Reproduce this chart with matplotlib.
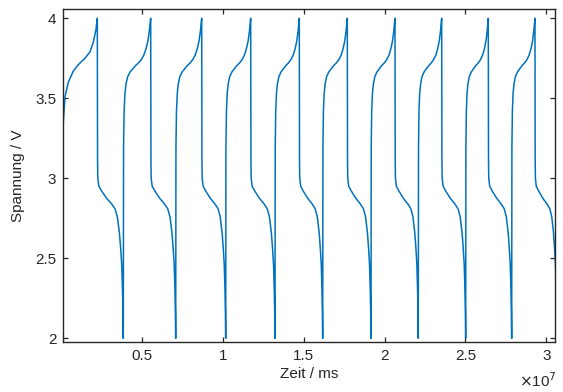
import numpy as np
import matplotlib
matplotlib.use('Agg')
import matplotlib.pyplot as plt
from matplotlib.ticker import FuncFormatter

# --- Data (time in ms, voltage in V) ---
# first, partial charge segment at the start of the record
start_t = [0.0111e7, 0.0217e7, 0.0421e7, 0.0730e7, 0.1040e7,
           0.1454e7, 0.1764e7, 0.1968e7, 0.2135e7, 0.2215e7]
start_v = [3.35, 3.51, 3.60, 3.67, 3.71, 3.75, 3.79, 3.85, 3.93, 4.00]

# times where the cell hits 4.0 V (end of charge) and 2.0 V (end of discharge)
peak_t = [0.2215e7, 0.5520e7, 0.8676e7, 1.1708e7, 1.4715e7,
          1.7686e7, 2.0637e7, 2.3527e7, 2.6411e7, 2.9300e7]
min_t = [0.3824e7, 0.7067e7, 1.0161e7, 1.3212e7, 1.6163e7,
         1.9152e7, 2.2079e7, 2.5012e7, 2.7859e7, 3.0650e7]

# discharge curve shape (fraction of the discharge time, voltage)
dis_f = [0.0, 0.004, 0.01, 0.02, 0.06, 0.17, 0.36, 0.55, 0.68,
         0.77, 0.85, 0.90, 0.94, 0.97, 0.99, 1.0]
dis_v = [4.00, 3.40, 3.10, 3.00, 2.95, 2.92, 2.875, 2.84, 2.81,
         2.76, 2.66, 2.56, 2.46, 2.30, 2.15, 2.00]

# charge curve shape (fraction of the charge time, voltage)
chg_f = [0.0, 0.01, 0.03, 0.06, 0.10, 0.16, 0.25, 0.35, 0.45,
         0.55, 0.65, 0.75, 0.83, 0.90, 0.95, 1.0]
chg_v = [2.00, 3.20, 3.42, 3.53, 3.59, 3.635, 3.665, 3.685, 3.705,
         3.72, 3.74, 3.77, 3.81, 3.86, 3.92, 4.00]

# --- Build the cycling record ---
t = list(start_t)
v = list(start_v)
for i in range(len(peak_t)):
    dt = min_t[i] - peak_t[i]
    t += [peak_t[i] + f * dt for f in dis_f[1:]]
    v += dis_v[1:]
    if i + 1 < len(peak_t):
        dt = peak_t[i + 1] - min_t[i]
        t += [min_t[i] + f * dt for f in chg_f[1:]]
        v += chg_v[1:]

# --- Plot ---
plt.rcParams['font.family'] = ['Liberation Sans', 'DejaVu Sans']
dark = '#262626'

fig = plt.figure(figsize=(5.63, 3.92), dpi=100)
ax = fig.add_axes([0.1124, 0.1283, 0.8734, 0.848])
ax.plot(t, v, color='#0072BD', linewidth=1.1)

ax.set_xlim(0.011e7, 3.054e7)
ax.set_ylim(1.979, 4.056)
ax.set_xticks([0.5e7, 1.0e7, 1.5e7, 2.0e7, 2.5e7, 3.0e7])
ax.set_yticks([2, 2.5, 3, 3.5, 4])
ax.xaxis.set_major_formatter(FuncFormatter(lambda x, p: '%g' % (x / 1e7)))
ax.yaxis.set_major_formatter(FuncFormatter(lambda y, p: '%g' % y))

ax.tick_params(direction='in', length=3.5, width=0.9, colors=dark,
               labelsize=11, top=True, right=True, pad=5)
for s in ax.spines.values():
    s.set_color(dark)
    s.set_linewidth(1.0)

ax.set_xlabel('Zeit / ms', fontsize=11, color=dark, labelpad=3)
ax.set_ylabel('Spannung / V', fontsize=11, color=dark, labelpad=7)

# exponent label like MATLAB
ax.annotate(r'$\times$10$^{7}$', xy=(1.0, 0.0), xycoords='axes fraction',
            xytext=(1, -21), textcoords='offset points',
            ha='right', va='top', fontsize=11, color=dark)

fig.savefig('out.png', dpi=100)
